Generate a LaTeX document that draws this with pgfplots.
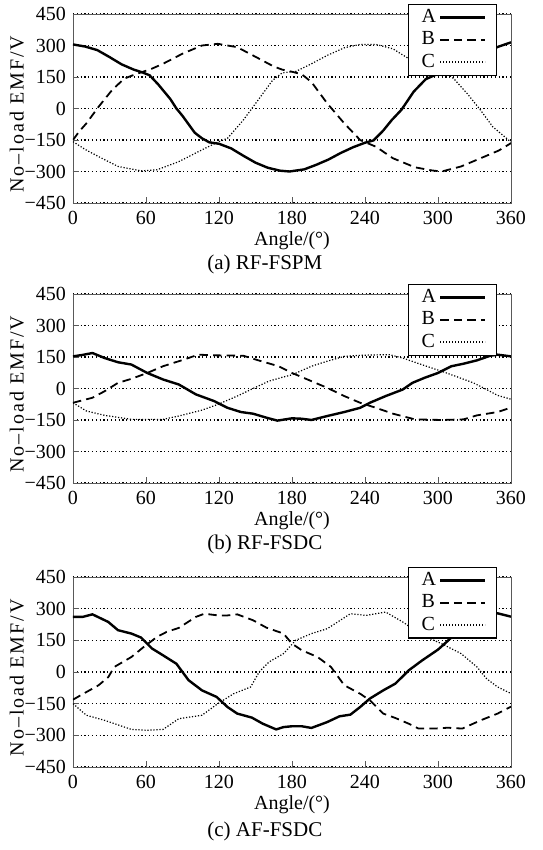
\documentclass[border=0pt]{standalone}
\usepackage{pgfplots}
\pgfplotsset{compat=1.18}
\usepackage{fontspec}
\setmainfont{Liberation Serif}
\tikzset{
  Aline/.style={black, line width=1.2pt},
  Bline/.style={black, line width=0.9pt, dash pattern=on 4.2pt off 2.6pt},
  Cline/.style={black, line width=0.6pt, dash pattern=on 0.6pt off 0.9pt},
  capt/.style={font=\fontsize{10.5}{12}\selectfont, anchor=center, inner sep=0pt},
}
\pgfplotsset{
  emfaxis/.style={
    scale only axis, width=219pt, height=94.5pt,
    xmin=0, xmax=360, ymin=-450, ymax=450,
    xtick={0,60,...,360}, ytick={-450,-300,-150,0,150,300,450},
    yticklabels={−450,−300,−150,0,150,300,450},
    tick align=inside, xtick pos=bottom, ytick pos=left,
    major tick length=3pt,
    axis line style={black!65}, tick style={black!65},
    ymajorgrids, grid style={black, line width=0.6pt, dash pattern=on 0.6pt off 1.3pt},
    /pgf/number format/assume math mode=true,
    xticklabel style={yshift=-0.5pt},
    ylabel={\addfontfeatures{LetterSpace=10}No–load EMF/V},
    xlabel={Angle/(°)},
    ylabel style={at={(axis description cs:-0.128,0.47)}, anchor=center},
    xlabel style={at={(axis description cs:0.5,0)}, anchor=center, yshift=-19pt, inner sep=0pt},
    legend plot pos=right,
    legend cell align=left,
    legend image code/.code={\draw[#1] (0pt,0pt) -- (22.5pt,0pt);},
    legend style={at={(axis description cs:0.968,1.053)}, anchor=north east,
      draw=black, line width=0.6pt, fill=white, inner xsep=5pt, inner ysep=1pt,
      row sep=0pt, nodes={inner sep=1.5pt},
      /tikz/every even column/.append style={column sep=3pt}},
    clip mode=individual,
  },
}
\begin{document}
\begin{tikzpicture}[font=\fontsize{10}{12}\selectfont]
\useasboundingbox (0,0) rectangle (271pt,425pt);
% ---------------- (a) RF-FSPM
\begin{axis}[emfaxis, at={(36.5pt,323.5pt)}, anchor=south west]
\addplot[Aline] coordinates {(0,305) (10,295) (20,278) (30,245) (40,210) (50,185) (57,172) (63,158) (70,115) (80,45) (85,0) (90,-35) (100,-115) (106,-142) (112,-161) (120,-168) (130,-190) (140,-225) (150,-258) (160,-282) (170,-296) (178,-300) (190,-290) (200,-268) (210,-243) (220,-212) (230,-185) (240,-163) (247,-152) (255,-105) (262,-55) (270,-6) (280,80) (290,140) (300,165) (308,185) (320,215) (330,245) (340,272) (350,295) (360,315)};
\addlegendentry{A}
\addplot[Bline] coordinates {(0,-150) (5,-110) (11,-71) (21,8) (32,87) (42,142) (50,160) (57,174) (65,190) (74,213) (90,261) (106,300) (119,308) (135,292) (153,237) (165,200) (172,185) (180,175) (188,163) (196,126) (209,24) (223,-71) (236,-150) (242,-165) (249,-182) (263,-237) (281,-280) (295,-295) (303,-300) (319,-276) (335,-237) (350,-200) (360,-165)};
\addlegendentry{B}
\addplot[Cline] coordinates {(0,-158) (10,-195) (21,-229) (37,-276) (56,-297) (69,-292) (87,-253) (106,-197) (119,-160) (127,-142) (140,-55) (153,47) (164,134) (172,170) (183,176) (196,213) (209,253) (223,289) (236,305) (249,305) (263,284) (276,237) (289,197) (303,182) (313,142) (324,71) (335,-8) (345,-87) (360,-160)};
\addlegendentry{C}
\node[capt] at (axis description cs:0.438,0) [yshift=-30.5pt] {(a) RF-FSPM};
\end{axis}
% ---------------- (b) RF-FSDC
\begin{axis}[emfaxis, at={(36.5pt,183.5pt)}, anchor=south west]
\addplot[Aline] coordinates {(0,153) (8,160) (16,169) (26,145) (37,125) (48,114) (61,74) (74,43) (87,19) (101,-28) (116,-60) (127,-92) (138,-112) (148,-120) (159,-139) (168,-153) (180,-142) (188,-144) (196,-150) (209,-131) (223,-112) (236,-92) (244,-68) (257,-36) (271,-5) (279,27) (289,51) (300,74) (311,106) (321,118) (332,134) (343,156) (349,161) (360,153)};
\addlegendentry{A}
\addplot[Bline] coordinates {(0,-68) (16,-44) (26,-13) (37,27) (48,46) (61,74) (74,106) (87,130) (103,161) (116,158) (140,156) (153,133) (169,106) (180,74) (196,35) (209,3) (223,-36) (236,-68) (249,-92) (263,-120) (281,-147) (303,-150) (321,-147) (332,-128) (349,-112) (360,-91)};
\addlegendentry{B}
\addplot[Cline] coordinates {(0,-68) (11,-107) (26,-128) (48,-147) (74,-147) (87,-131) (106,-103) (119,-76) (135,-36) (148,0) (161,35) (173,55) (180,65) (196,106) (209,130) (223,153) (236,158) (249,160) (260,161) (271,145) (289,109) (303,82) (316,55) (329,27) (340,-5) (349,-33) (360,-51)};
\addlegendentry{C}
\node[capt] at (axis description cs:0.438,0) [yshift=-30.5pt] {(b) RF-FSDC};
\end{axis}
% ---------------- (c) AF-FSDC
\begin{axis}[emfaxis, height=95pt, at={(36.5pt,41.5pt)}, anchor=south west]
\addplot[Aline] coordinates {(0,261) (8,261) (16,273) (29,237) (37,198) (48,182) (56,163) (65,111) (74,79) (85,39) (95,-39) (106,-87) (118,-118) (127,-166) (135,-197) (147,-216) (156,-245) (167,-272) (173,-261) (180,-257) (188,-257) (196,-265) (209,-237) (219,-210) (228,-202) (236,-166) (244,-126) (255,-87) (265,-55) (276,8) (287,55) (300,106) (307,142) (316,190) (330,240) (340,265) (349,278) (360,262)};
\addlegendentry{A}
\addplot[Bline] coordinates {(0,-131) (11,-95) (21,-63) (29,-24) (34,24) (48,71) (58,118) (69,166) (77,190) (87,209) (101,261) (108,276) (119,268) (127,268) (135,273) (148,245) (159,210) (173,182) (180,134) (188,103) (201,71) (212,24) (223,-63) (236,-103) (244,-134) (255,-197) (265,-218) (276,-245) (284,-268) (297,-268) (308,-264) (320,-268) (335,-229) (349,-197) (360,-164)};
\addlegendentry{B}
\addplot[Cline] coordinates {(0,-150) (11,-205) (26,-229) (48,-272) (61,-276) (74,-272) (87,-221) (106,-205) (119,-150) (132,-103) (146,-71) (153,0) (161,47) (173,87) (183,150) (196,182) (209,205) (228,276) (241,268) (257,284) (271,237) (287,174) (303,134) (319,87) (332,24) (340,-32) (349,-71) (360,-102)};
\addlegendentry{C}
\node[capt] at (axis description cs:0.438,0) [yshift=-32pt] {(c) AF-FSDC};
\end{axis}
\end{tikzpicture}
\end{document}
